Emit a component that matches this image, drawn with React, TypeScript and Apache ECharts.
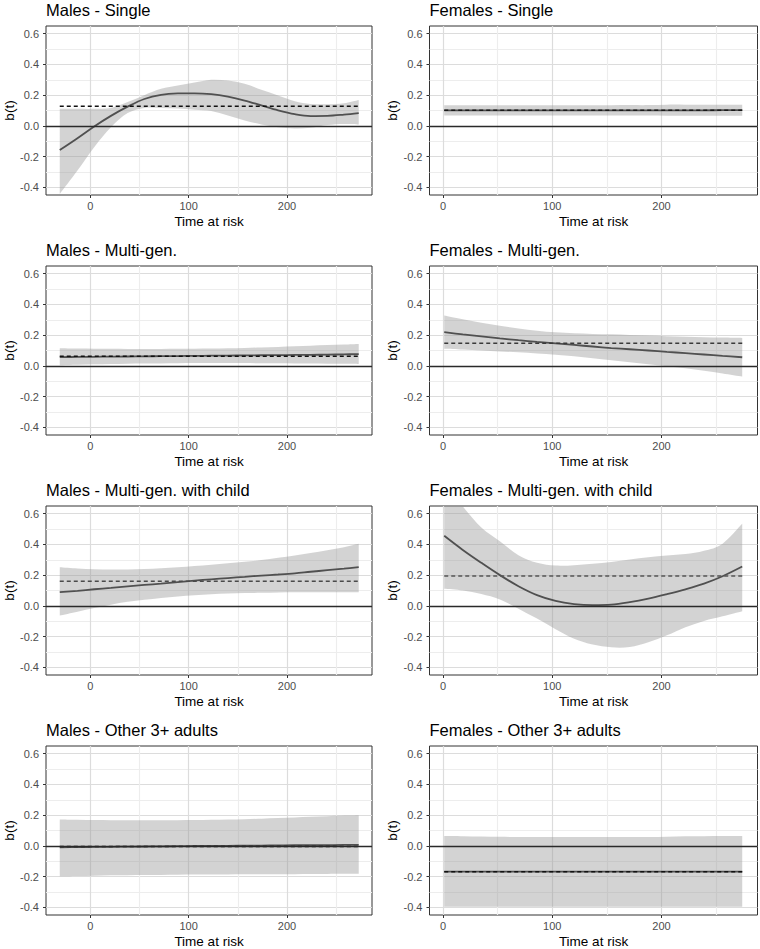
import React, { useEffect, useRef } from 'react';
import * as echarts from 'echarts';

// ---------- data ----------
const maleTime = [-31, -13, 4, 21, 38, 55, 72, 89, 106, 123, 140, 157, 174, 191, 208, 224, 241, 258, 273];
const femaleTime = [1, 18, 35, 52, 69, 86, 103, 120, 137, 154, 171, 188, 205, 222, 239, 256, 274];

const panelTitles = [
  'Males - Single',
  'Females - Single',
  'Males - Multi-gen.',
  'Females - Multi-gen.',
  'Males - Multi-gen. with child',
  'Females - Multi-gen. with child',
  'Males - Other 3+ adults',
  'Females - Other 3+ adults',
];

const yTickValues = [-0.4, -0.2, 0, 0.2, 0.4, 0.6];
const xTickValues = [0, 100, 200];

// time-constant coefficient (dashed line), one per panel
const constCoef = [0.128, 0.101, 0.063, 0.148, 0.161, 0.195, -0.004, -0.168];

// Males - Single
const mSingleFit = [-0.157, -0.08, -0.004, 0.065, 0.125, 0.175, 0.202, 0.211, 0.212, 0.206, 0.19, 0.165, 0.133, 0.101, 0.076, 0.064, 0.065, 0.073, 0.083];
const mSingleLow = [-0.443, -0.291, -0.139, -0.009, 0.083, 0.117, 0.117, 0.113, 0.105, 0.096, 0.067, 0.035, 0.009, -0.009, -0.017, -0.013, 0.005, 0.012, 0.009];
const mSingleHigh = [0.111, 0.111, 0.111, 0.117, 0.155, 0.2, 0.241, 0.262, 0.282, 0.3, 0.295, 0.274, 0.235, 0.198, 0.161, 0.143, 0.141, 0.148, 0.169];

// Females - Single
const fSingleFit = [0.101, 0.101, 0.101, 0.101, 0.101, 0.101, 0.101, 0.101, 0.101, 0.101, 0.101, 0.101, 0.101, 0.101, 0.101, 0.102, 0.102];
const fSingleLow = [0.067, 0.067, 0.067, 0.067, 0.067, 0.067, 0.067, 0.067, 0.067, 0.067, 0.067, 0.067, 0.066, 0.066, 0.066, 0.066, 0.066];
const fSingleHigh = [0.134, 0.134, 0.134, 0.134, 0.134, 0.134, 0.134, 0.134, 0.134, 0.134, 0.135, 0.135, 0.138, 0.138, 0.138, 0.138, 0.138];

// Males - Multi-gen.
const mMultiFit = [0.057, 0.058, 0.059, 0.06, 0.061, 0.062, 0.063, 0.064, 0.065, 0.066, 0.067, 0.068, 0.069, 0.07, 0.071, 0.072, 0.073, 0.075, 0.076];
const mMultiLow = [0.004, 0.007, 0.01, 0.012, 0.014, 0.015, 0.016, 0.017, 0.018, 0.018, 0.018, 0.018, 0.017, 0.017, 0.016, 0.015, 0.014, 0.013, 0.012];
const mMultiHigh = [0.115, 0.113, 0.112, 0.111, 0.11, 0.11, 0.11, 0.111, 0.112, 0.113, 0.115, 0.117, 0.12, 0.123, 0.127, 0.131, 0.135, 0.139, 0.143];

// Females - Multi-gen.
const fMultiFit = [0.219, 0.205, 0.192, 0.179, 0.167, 0.156, 0.146, 0.136, 0.126, 0.116, 0.108, 0.1, 0.091, 0.083, 0.074, 0.065, 0.056];
const fMultiLow = [0.111, 0.106, 0.1, 0.094, 0.088, 0.081, 0.073, 0.062, 0.05, 0.036, 0.023, 0.01, -0.002, -0.015, -0.031, -0.049, -0.069];
const fMultiHigh = [0.327, 0.303, 0.281, 0.261, 0.243, 0.229, 0.218, 0.212, 0.208, 0.205, 0.201, 0.197, 0.193, 0.19, 0.187, 0.184, 0.182];

// Males - Multi-gen. with child
const mChildFit = [0.089, 0.098, 0.108, 0.117, 0.127, 0.136, 0.145, 0.155, 0.164, 0.173, 0.181, 0.189, 0.197, 0.204, 0.212, 0.222, 0.232, 0.242, 0.252];
const mChildLow = [-0.063, -0.038, -0.014, 0.008, 0.026, 0.039, 0.051, 0.061, 0.069, 0.075, 0.08, 0.083, 0.085, 0.087, 0.088, 0.088, 0.089, 0.089, 0.089];
const mChildHigh = [0.252, 0.244, 0.239, 0.237, 0.237, 0.24, 0.245, 0.251, 0.259, 0.268, 0.277, 0.287, 0.298, 0.313, 0.328, 0.344, 0.362, 0.382, 0.404];

// Females - Multi-gen. with child
const fChildFit = [0.456, 0.364, 0.28, 0.2, 0.128, 0.07, 0.032, 0.012, 0.005, 0.008, 0.024, 0.047, 0.076, 0.108, 0.145, 0.193, 0.256];
const fChildLow = [0.111, 0.1, 0.077, 0.042, -0.018, -0.083, -0.152, -0.214, -0.252, -0.27, -0.268, -0.237, -0.192, -0.139, -0.098, -0.068, -0.035];
const fChildHigh = [0.8, 0.647, 0.51, 0.42, 0.33, 0.28, 0.262, 0.265, 0.274, 0.286, 0.302, 0.316, 0.327, 0.337, 0.358, 0.405, 0.534];

// Males - Other 3+ adults
const mOtherFit = [-0.009, -0.008, -0.007, -0.006, -0.005, -0.004, -0.003, -0.002, -0.001, 0.0, 0.0, 0.001, 0.002, 0.003, 0.004, 0.004, 0.005, 0.006, 0.006];
const mOtherLow = [-0.198, -0.196, -0.194, -0.192, -0.191, -0.19, -0.189, -0.188, -0.187, -0.186, -0.186, -0.185, -0.185, -0.184, -0.184, -0.183, -0.183, -0.182, -0.181];
const mOtherHigh = [0.172, 0.17, 0.168, 0.167, 0.166, 0.166, 0.166, 0.167, 0.168, 0.17, 0.172, 0.174, 0.177, 0.181, 0.185, 0.189, 0.193, 0.197, 0.2];

// Females - Other 3+ adults
const fOtherFit = [-0.168, -0.168, -0.168, -0.168, -0.168, -0.168, -0.168, -0.168, -0.168, -0.168, -0.168, -0.168, -0.168, -0.168, -0.168, -0.168, -0.168];
const fOtherLow = [-0.396, -0.396, -0.396, -0.396, -0.396, -0.396, -0.396, -0.396, -0.396, -0.396, -0.396, -0.396, -0.396, -0.396, -0.396, -0.396, -0.396];
const fOtherHigh = [0.064, 0.063, 0.061, 0.059, 0.058, 0.057, 0.057, 0.057, 0.057, 0.057, 0.057, 0.058, 0.06, 0.062, 0.063, 0.064, 0.065];

// ---------- styles ----------
const FONT = '"Liberation Sans", Arial, Helvetica, sans-serif';
const MAJOR = '#dcdcdc';
const MINOR = '#ededed';
const NONE = 'rgba(0,0,0,0)';
const BAND_FILL = 'rgba(150,150,150,0.42)';
const dashColors = ['#111', '#1a1a1a', '#111', '#3a3a3a', '#4a4a4a', '#555', '#111', '#111'];

function cycle(len: number, majorIdx: number, minorIdx: number) {
  const a: string[] = [];
  for (let i = 0; i < len; i++) a.push(NONE);
  a[majorIdx] = MAJOR;
  a[minorIdx] = MINOR;
  return a;
}

// Catmull-Rom through pixel points -> cubic bezier path segments
function curveSegs(pts: number[][]) {
  let d = '';
  for (let i = 0; i < pts.length - 1; i++) {
    const p0 = pts[Math.max(i - 1, 0)];
    const p1 = pts[i];
    const p2 = pts[i + 1];
    const p3 = pts[Math.min(i + 2, pts.length - 1)];
    const c1x = p1[0] + (p2[0] - p0[0]) / 6;
    const c1y = p1[1] + (p2[1] - p0[1]) / 6;
    const c2x = p2[0] - (p3[0] - p1[0]) / 6;
    const c2y = p2[1] - (p3[1] - p1[1]) / 6;
    d += ` C${c1x.toFixed(2)},${c1y.toFixed(2)} ${c2x.toFixed(2)},${c2y.toFixed(2)} ${p2[0].toFixed(2)},${p2[1].toFixed(2)}`;
  }
  return d;
}

export default function App() {
  const ref = useRef<HTMLDivElement>(null);
  useEffect(() => {
    if (!ref.current) return;
    const chart = echarts.init(ref.current, null, { renderer: 'svg' });

    const panels = [
      { time: maleTime, fit: mSingleFit, low: mSingleLow, high: mSingleHigh },
      { time: femaleTime, fit: fSingleFit, low: fSingleLow, high: fSingleHigh },
      { time: maleTime, fit: mMultiFit, low: mMultiLow, high: mMultiHigh },
      { time: femaleTime, fit: fMultiFit, low: fMultiLow, high: fMultiHigh },
      { time: maleTime, fit: mChildFit, low: mChildLow, high: mChildHigh },
      { time: femaleTime, fit: fChildFit, low: fChildLow, high: fChildHigh },
      { time: maleTime, fit: mOtherFit, low: mOtherLow, high: mOtherHigh },
      { time: femaleTime, fit: fOtherFit, low: fOtherLow, high: fOtherHigh },
    ];

    const grids: any[] = [];
    const xMain: any[] = [];
    const xGrid: any[] = [];
    const yMain: any[] = [];
    const yGrid: any[] = [];
    const series: any[] = [];
    const graphics: any[] = [];

    panels.forEach((p, i) => {
      const col = i % 2;
      const row = Math.floor(i / 2);
      const left = col === 0 ? 46 : 429.5;
      const width = col === 0 ? 326 : 328;
      const top = 26 + 240 * row;
      const xmin = col === 0 ? -45 : -12.5;
      const xmax = col === 0 ? 286.5 : 288;

      grids.push({
        left, top, width, height: 169,
        show: true, borderColor: '#333', borderWidth: 1, backgroundColor: 'transparent',
      });

      xMain.push({
        type: 'value', gridIndex: i, min: xmin, max: xmax, position: 'bottom',
        axisLine: { show: false, onZero: false },
        axisTick: { show: true, length: 3, lineStyle: { color: '#333', width: 1 }, customValues: xTickValues },
        axisLabel: { show: true, customValues: xTickValues, margin: 5, fontSize: 11, color: '#4d4d4d', fontFamily: FONT, formatter: (v: number) => String(v) },
        splitLine: { show: false },
        name: 'Time at risk', nameLocation: 'middle', nameGap: 19,
        nameTextStyle: { fontSize: 13.5, color: '#000', fontFamily: FONT },
      });
      xGrid.push({
        type: 'value', gridIndex: i, min: xmin, max: xmax, position: 'top',
        interval: col === 0 ? 5 : 2.5,
        axisLine: { show: false, onZero: false },
        axisTick: { show: false }, axisLabel: { show: false },
        splitLine: { show: true, lineStyle: { width: 1.2, color: col === 0 ? cycle(20, 9, 19) : cycle(40, 5, 25) } },
      });
      yMain.push({
        type: 'value', gridIndex: i, min: -0.45, max: 0.65, position: 'left',
        axisLine: { show: false, onZero: false },
        axisTick: { show: true, length: 3, lineStyle: { color: '#333', width: 1 }, customValues: yTickValues },
        axisLabel: { show: true, customValues: yTickValues, margin: 7, fontSize: 11, color: '#4d4d4d', fontFamily: FONT, formatter: (v: number) => v.toFixed(1) },
        splitLine: { show: false },
        name: 'b(t)', nameLocation: 'middle', nameGap: 30,
        nameTextStyle: { fontSize: 13.5, color: '#000', fontFamily: FONT },
      });
      yGrid.push({
        type: 'value', gridIndex: i, min: -0.45, max: 0.65, position: 'right', interval: 0.05,
        axisLine: { show: false, onZero: false },
        axisTick: { show: false }, axisLabel: { show: false },
        splitLine: { show: true, lineStyle: { width: 1.2, color: [NONE, MAJOR, NONE, MINOR] } },
      });

      const t = p.time;
      const fitData = t.map((x, k) => [x, p.fit[k]]);
      const dashData = [[t[0], constCoef[i]], [t[t.length - 1], constCoef[i]]];

      // confidence band drawn through the axes' scales (api.coord)
      series.push({
        type: 'custom', xAxisIndex: i, yAxisIndex: i, clip: true, silent: true, z: 2,
        data: [[t[0], p.low[0]]],
        renderItem: (params: any, api: any) => {
          if (params.dataIndex !== 0) return null;
          const up = t.map((x, k) => api.coord([x, p.high[k]]));
          const lo = t.map((x, k) => api.coord([x, p.low[k]])).reverse();
          let d = `M${up[0][0].toFixed(2)},${up[0][1].toFixed(2)}` + curveSegs(up);
          d += ` L${lo[0][0].toFixed(2)},${lo[0][1].toFixed(2)}` + curveSegs(lo) + ' Z';
          const cs = params.coordSys;
          return {
            type: 'path',
            shape: { pathData: d },
            style: { fill: BAND_FILL, stroke: 'none' },
            clipPath: { type: 'rect', shape: { x: cs.x, y: cs.y, width: cs.width, height: cs.height } },
          };
        },
      });
      series.push({
        type: 'line', xAxisIndex: i, yAxisIndex: i, data: fitData, smooth: 0.35, symbol: 'none',
        lineStyle: { color: '#505050', width: 1.8 }, silent: true, z: 3,
        markLine: {
          silent: true, symbol: 'none', label: { show: false },
          lineStyle: { color: '#2a2a2a', width: 1.3, type: 'solid' },
          data: [{ yAxis: 0 }],
        },
      });
      series.push({
        type: 'line', xAxisIndex: i, yAxisIndex: i, data: dashData, symbol: 'none',
        lineStyle: { color: dashColors[i], width: 1.5, type: [4, 3] }, silent: true, z: 4,
      });

      graphics.push({
        type: 'text', x: left, y: 10 + 240 * row, silent: true,
        style: { text: panelTitles[i], fontSize: 16.5, fontFamily: FONT, fill: '#000', align: 'left', verticalAlign: 'middle' },
      });
    });

    chart.setOption({
      animation: false,
      backgroundColor: '#fff',
      textStyle: { fontFamily: FONT },
      grid: grids,
      xAxis: [...xMain, ...xGrid],
      yAxis: [...yMain, ...yGrid],
      series,
      graphic: graphics,
    });

    return () => chart.dispose();
  }, []);

  return <div ref={ref} style={{ position: 'absolute', left: 0, top: 0, width: 760, height: 949 }} />;
}
